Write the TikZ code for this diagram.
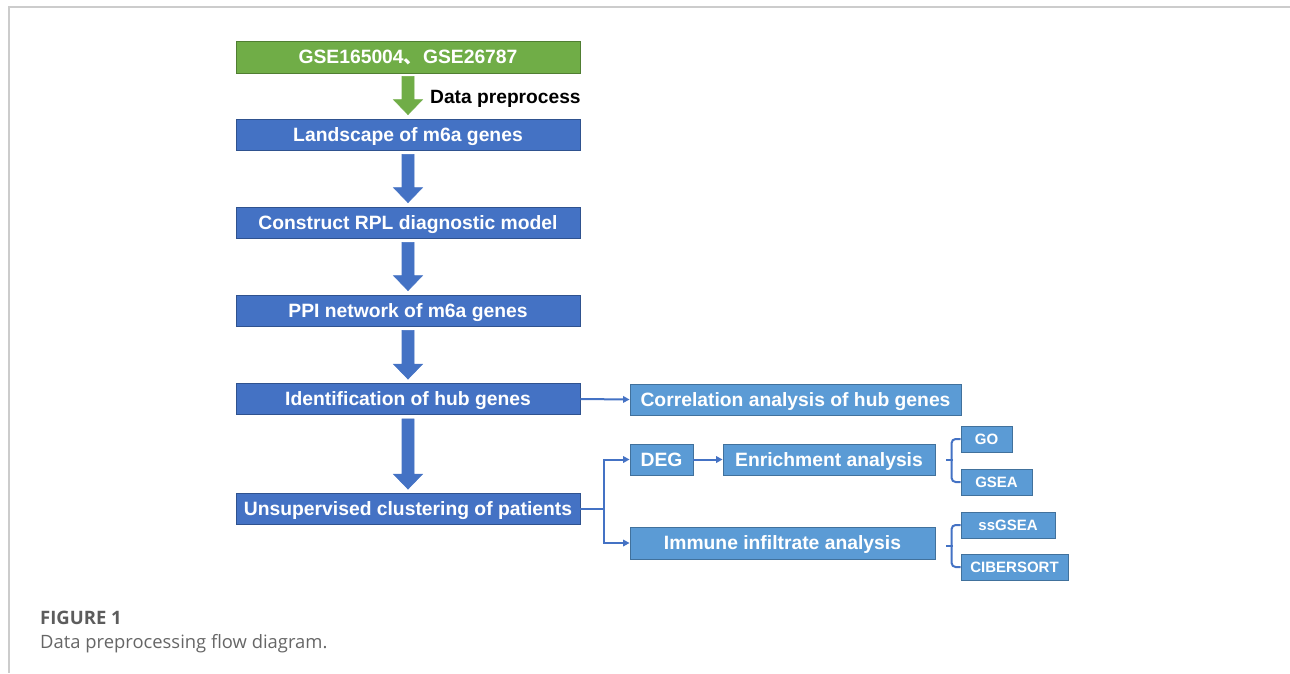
\documentclass[tikz,border=0pt]{standalone}
\usepackage{fontspec}
\setmainfont{Liberation Sans}
\newfontfamily\cjk{Noto Sans CJK SC}
\newfontfamily\capfont{Open Sans}
\usetikzlibrary{calc,arrows.meta}
\definecolor{dblue}{HTML}{4472C4}
\definecolor{dblueb}{HTML}{2F528F}
\definecolor{lblue}{HTML}{5B9BD5}
\definecolor{lblueb}{HTML}{41719C}
\definecolor{mgreen}{HTML}{70AD47}
\definecolor{mgreenb}{HTML}{507E32}
\definecolor{framegray}{HTML}{CCCCCC}
\definecolor{capgray}{HTML}{666666}
\tikzset{
  boxbase/.style={rectangle, inner sep=0pt, line width=0.8pt, text=white, text height=13.8pt, text depth=0pt, font=\fontsize{19.3}{22}\selectfont\bfseries},
  mainbox/.style={boxbase, fill=dblue, draw=dblueb, minimum width=344pt, minimum height=31pt},
  srcbox/.style={boxbase, fill=mgreen, draw=mgreenb, minimum width=344pt, minimum height=32pt},
  subbox/.style={boxbase, fill=lblue, draw=lblueb, minimum height=31pt},
  smallbox/.style={boxbase, fill=lblue, draw=lblueb, minimum height=26pt, text height=10.7pt, font=\fontsize{15}{18}\selectfont\bfseries},
  conn/.style={draw=dblue, line width=2pt},
  connarrow/.style={conn, -{Triangle[width=6.5pt,length=6.5pt]}},
}
\newcommand{\blockarrow}[6]{%
  \fill[#3, draw=#4, line width=0.6pt] let \p1=($(#1.south)+(0,-#5)$), \p2=($(#2.north)+(0,#6)$) in
    (\x1-6pt,\y1) -- (\x1+6pt,\y1) -- (\x1+6pt,\y2+15pt) -- (\x1+14.5pt,\y2+15pt) --
    (\x1,\y2) -- (\x1-14.5pt,\y2+15pt) -- (\x1-6pt,\y2+15pt) -- cycle;}
\begin{document}
\begin{tikzpicture}[x=1pt,y=-1pt]
\useasboundingbox (0,0) rectangle (1290,673);
\draw[framegray, line width=1.2pt] (1290,7) -- (9,7) -- (9,673);

\node[srcbox] (src) at (408,57) {GSE165004{\cjk 、}GSE26787};
\node[mainbox] (land) at (408,134.5) {Landscape of m6a genes};
\node[mainbox] (cons) at (408,222.5) {Construct RPL diagnostic model};
\node[mainbox] (ppi) at (408,310.5) {PPI network of m6a genes};
\node[mainbox] (hub) at (408,399) {Identification of hub genes};
\node[mainbox] (uns) at (408,509) {Unsupervised clustering of patients};

\node[subbox, minimum width=331pt] (corr) at (795.5,399.5) {Correlation analysis of hub genes};
\node[subbox, minimum width=63pt] (deg) at (661.5,459.5) {DEG};
\node[subbox, minimum width=212pt] (enr) at (829,459.5) {Enrichment analysis};
\node[subbox, minimum width=305pt, minimum height=32pt] (imm) at (782.5,543) {Immune infiltrate analysis};

\node[smallbox, minimum width=51pt] (go) at (986.5,439) {GO};
\node[smallbox, minimum width=71pt] (gsea) at (996.5,482) {GSEA};
\node[smallbox, minimum width=94pt] (ssgsea) at (1008,525) {ssGSEA};
\node[smallbox, minimum width=107pt] (cib) at (1014.5,567) {CIBERSORT};

\node[anchor=west, font=\fontsize{19.2}{22}\selectfont\bfseries, inner sep=0pt, text height=13.8pt, text depth=0pt] (dp) at (430,97) {Data preprocess};

\blockarrow{src}{land}{mgreen}{mgreen}{3pt}{4pt}
\blockarrow{land}{cons}{dblue}{dblue}{4pt}{4pt}
\blockarrow{cons}{ppi}{dblue}{dblue}{4pt}{4pt}
\blockarrow{ppi}{hub}{dblue}{dblue}{4pt}{4pt}
\blockarrow{hub}{uns}{dblue}{dblue}{4pt}{4pt}

\draw[connarrow] (hub.east) -- (corr.west);
\draw[conn] (uns.east) -- ++(24,0) coordinate (j);
\draw[connarrow] (j) |- (deg.west);
\draw[connarrow] (j) |- (imm.west);
\draw[connarrow] (deg.east) -- (enr.west);

\draw[conn, rounded corners=4pt] (go.west) -- ++(-9,0) |- (gsea.west);
\draw[conn] ($(enr.east)+(11,0)$) -- ++(7,0);
\draw[conn, rounded corners=4pt] (ssgsea.west) -- ++(-9,0) |- (cib.west);
\draw[conn] ($(imm.east)+(11,3)$) -- ++(7,0);

\node[anchor=base west, inner sep=0pt, text=capgray!90!black, font=\capfont\fontsize{18.5}{22}\selectfont\bfseries] (fig) at (40,624) {FIGURE 1};
\node[anchor=base west, inner sep=0pt, text=capgray, font=\capfont\fontsize{18.4}{22}\selectfont] (cap) at (40,648) {Data preprocessing flow diagram.};
\end{tikzpicture}
\end{document}
